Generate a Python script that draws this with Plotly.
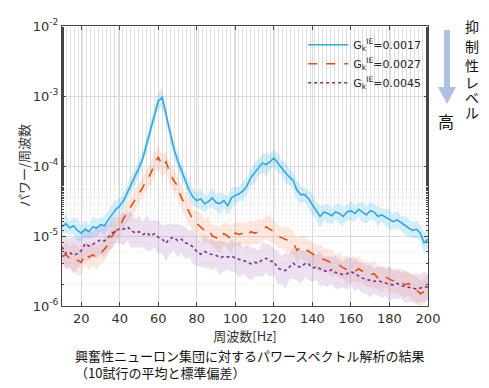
import plotly.graph_objects as go

freq = list(range(10, 201, 2))

blue_mean = [1.35e-5, 1.5e-5, 1.3e-5, 1.4e-5, 1.2e-5, 1.1e-5, 1.25e-5, 1.15e-5, 1.35e-5, 1.3e-5,
             1.45e-5, 1.4e-5, 1.7e-5, 2.0e-5, 2.4e-5, 2.7e-5, 3.2e-5, 4.2e-5, 5.5e-5, 7.0e-5,
             9.5e-5, 1.3e-4, 2.1e-4, 3.3e-4, 5.5e-4, 8.5e-4, 9.5e-4, 5.5e-4, 3.0e-4, 1.8e-4,
             1.2e-4, 8.5e-5, 6.3e-5, 4.5e-5, 3.6e-5, 3.2e-5, 3.4e-5, 2.9e-5, 3.1e-5, 3.5e-5,
             3.0e-5, 2.9e-5, 3.2e-5, 2.7e-5, 3.5e-5, 3.8e-5, 4.0e-5, 4.4e-5, 5.2e-5, 6.8e-5,
             8.0e-5, 9.5e-5, 1.1e-4, 1.05e-4, 1.15e-4, 1.3e-4, 1.1e-4, 9.5e-5, 8.0e-5, 7.0e-5,
             6.2e-5, 4.5e-5, 3.9e-5, 3.9e-5, 3.4e-5, 2.8e-5, 2.3e-5, 1.9e-5, 2.2e-5, 2.1e-5,
             1.95e-5, 2.2e-5, 2.1e-5, 1.9e-5, 2.2e-5, 2.3e-5, 2.1e-5, 2.4e-5, 2.2e-5, 2.0e-5,
             2.3e-5, 2.2e-5, 1.9e-5, 2.0e-5, 1.85e-5, 1.7e-5, 1.6e-5, 1.7e-5, 1.55e-5, 1.4e-5,
             1.3e-5, 1.2e-5, 1.25e-5, 1.1e-5, 8.0e-6, 9.0e-6]

orange_mean = [5.1e-6, 5.4e-6, 4.8e-6, 5.0e-6, 4.5e-6, 4.2e-6, 5.6e-6, 5.0e-6, 5.4e-6, 4.9e-6,
               5.6e-6, 6.5e-6, 7.5e-6, 1.0e-5, 1.2e-5, 1.35e-5, 1.8e-5, 2.2e-5, 2.7e-5, 3.2e-5,
               4.1e-5, 5.0e-5, 6.3e-5, 7.8e-5, 1.05e-4, 1.35e-4, 1.0e-4, 1.15e-4, 8.0e-5, 6.2e-5,
               5.2e-5, 3.5e-5, 2.8e-5, 2.2e-5, 1.7e-5, 1.5e-5, 1.35e-5, 1.2e-5, 1.25e-5, 1.0e-5,
               9.5e-6, 8.8e-6, 1.08e-5, 1.0e-5, 8.8e-6, 1.1e-5, 1.05e-5, 1.1e-5, 1.0e-5, 1.15e-5,
               1.1e-5, 1.15e-5, 1.2e-5, 1.35e-5, 1.25e-5, 1.15e-5, 1.0e-5, 9.5e-6, 9.0e-6, 8.5e-6,
               8.0e-6, 6.2e-6, 7.0e-6, 6.5e-6, 6.0e-6, 5.6e-6, 5.0e-6, 4.8e-6, 4.6e-6, 4.4e-6,
               4.1e-6, 3.9e-6, 3.8e-6, 3.5e-6, 3.3e-6, 3.2e-6, 3.1e-6, 3.4e-6, 3.1e-6, 2.9e-6,
               2.8e-6, 2.9e-6, 2.5e-6, 2.4e-6, 2.6e-6, 2.4e-6, 2.3e-6, 2.2e-6, 2.2e-6, 2.0e-6,
               2.1e-6, 1.8e-6, 1.7e-6, 1.5e-6, 1.6e-6, 1.9e-6]

purple_mean = [7.0e-6, 5.6e-6, 5.8e-6, 5.3e-6, 5.6e-6, 6.2e-6, 7.8e-6, 7.2e-6, 7.6e-6, 8.2e-6,
               8.8e-6, 8.5e-6, 9.5e-6, 1.1e-5, 1.2e-5, 1.28e-5, 1.25e-5, 1.35e-5, 1.2e-5, 1.1e-5,
               1.15e-5, 1.05e-5, 1.12e-5, 1.0e-5, 1.08e-5, 9.6e-6, 9.0e-6, 7.9e-6, 9.2e-6, 9.6e-6,
               8.6e-6, 9.0e-6, 8.0e-6, 7.6e-6, 7.0e-6, 6.0e-6, 5.5e-6, 6.0e-6, 5.6e-6, 5.4e-6,
               5.3e-6, 4.9e-6, 5.1e-6, 5.0e-6, 5.2e-6, 4.8e-6, 4.6e-6, 4.5e-6, 4.3e-6, 4.0e-6,
               4.2e-6, 4.1e-6, 4.6e-6, 4.8e-6, 4.4e-6, 4.3e-6, 3.5e-6, 3.3e-6, 3.2e-6, 3.6e-6,
               4.1e-6, 3.7e-6, 3.6e-6, 4.0e-6, 4.0e-6, 3.5e-6, 3.6e-6, 3.4e-6, 3.2e-6, 3.1e-6,
               3.3e-6, 3.0e-6, 2.9e-6, 2.8e-6, 2.9e-6, 3.1e-6, 2.9e-6, 2.7e-6, 2.5e-6, 2.4e-6,
               2.3e-6, 2.25e-6, 2.3e-6, 2.2e-6, 2.15e-6, 2.05e-6, 2.0e-6, 2.1e-6, 1.95e-6, 1.9e-6,
               1.85e-6, 1.8e-6, 1.75e-6, 1.8e-6, 1.9e-6, 1.85e-6]

# standard deviation spread, in decades
blue_sd = [0.10, 0.14, 0.09, 0.12, 0.16, 0.11, 0.13, 0.10, 0.15, 0.12,
           0.10, 0.14, 0.12, 0.16, 0.13, 0.11, 0.12, 0.10, 0.13, 0.11,
           0.12, 0.10, 0.11, 0.12, 0.10, 0.12, 0.13, 0.11, 0.10, 0.12,
           0.11, 0.13, 0.10, 0.14, 0.12, 0.11, 0.15, 0.12, 0.10, 0.14,
           0.12, 0.16, 0.11, 0.13, 0.15, 0.12, 0.10, 0.14, 0.12, 0.11,
           0.15, 0.12, 0.13, 0.16, 0.11, 0.12, 0.14, 0.10, 0.15, 0.12,
           0.11, 0.14, 0.12, 0.10, 0.13, 0.15, 0.12, 0.16, 0.11, 0.14,
           0.12, 0.10, 0.15, 0.13, 0.11, 0.14, 0.12, 0.10, 0.15, 0.12,
           0.13, 0.11, 0.14, 0.10, 0.12, 0.15, 0.11, 0.13, 0.10, 0.14,
           0.12, 0.11, 0.13, 0.12, 0.15, 0.12]

orange_sd = [0.14, 0.18, 0.16, 0.20, 0.22, 0.17, 0.15, 0.19, 0.16, 0.18,
             0.14, 0.17, 0.15, 0.16, 0.14, 0.15, 0.13, 0.15, 0.14, 0.16,
             0.13, 0.15, 0.14, 0.16, 0.15, 0.18, 0.16, 0.15, 0.14, 0.16,
             0.15, 0.17, 0.16, 0.18, 0.15, 0.17, 0.19, 0.16, 0.18, 0.15,
             0.17, 0.19, 0.16, 0.18, 0.20, 0.16, 0.18, 0.15, 0.19, 0.17,
             0.16, 0.18, 0.15, 0.17, 0.19, 0.16, 0.18, 0.15, 0.17, 0.20,
             0.16, 0.18, 0.15, 0.19, 0.17, 0.16, 0.18, 0.20, 0.16, 0.17,
             0.19, 0.15, 0.18, 0.16, 0.20, 0.17, 0.15, 0.19, 0.16, 0.18,
             0.17, 0.20, 0.16, 0.18, 0.15, 0.19, 0.17, 0.16, 0.20, 0.18,
             0.16, 0.19, 0.17, 0.20, 0.18, 0.17]

purple_sd = [0.18, 0.24, 0.20, 0.27, 0.22, 0.19, 0.25, 0.21, 0.18, 0.23,
             0.20, 0.24, 0.19, 0.22, 0.18, 0.21, 0.24, 0.19, 0.26, 0.20,
             0.23, 0.18, 0.25, 0.21, 0.19, 0.24, 0.20, 0.26, 0.22, 0.18,
             0.24, 0.20, 0.23, 0.19, 0.25, 0.21, 0.18, 0.24, 0.20, 0.22,
             0.19, 0.25, 0.21, 0.18, 0.23, 0.20, 0.26, 0.19, 0.22, 0.24,
             0.20, 0.18, 0.25, 0.21, 0.23, 0.19, 0.24, 0.20, 0.26, 0.18,
             0.22, 0.20, 0.24, 0.19, 0.23, 0.21, 0.18, 0.25, 0.20, 0.22,
             0.19, 0.24, 0.21, 0.18, 0.23, 0.20, 0.25, 0.19, 0.22, 0.20,
             0.24, 0.18, 0.21, 0.23, 0.19, 0.25, 0.20, 0.22, 0.18, 0.24,
             0.21, 0.19, 0.23, 0.20, 0.22, 0.19]

series_names = ["G<sub>k</sub><sup>IE</sup>=0.0017",
                "G<sub>k</sub><sup>IE</sup>=0.0027",
                "G<sub>k</sub><sup>IE</sup>=0.0045"]

y_tickvals = [1e-6, 1e-5, 1e-4, 1e-3, 1e-2]
y_ticktext = ["10<sup>-6</sup>", "10<sup>-5</sup>", "10<sup>-4</sup>", "10<sup>-3</sup>", "10<sup>-2</sup>"]

x_title = "周波数[Hz]"
y_title = "パワー/周波数"
caption = "興奮性ニューロン集団に対するパワースペクトル解析の結果<br>（10試行の平均と標準偏差）"
side_chars = ["抑", "制", "性", "レ", "ベ", "ル"]
side_high = "高"

FONT = "DejaVu Sans, Noto Sans CJK JP, sans-serif"
JFONT = "Noto Sans CJK JP, sans-serif"

styles = [
    dict(color="#35a7dd", dash="solid", width=1.6, fill="rgba(77,190,238,0.25)"),
    dict(color="#d95319", dash="dash", width=1.6, fill="rgba(240,150,110,0.22)"),
    dict(color="#7e2f8e", dash="dot", width=1.6, fill="rgba(170,120,190,0.22)"),
]

fig = go.Figure()
all_means = [blue_mean, orange_mean, purple_mean]
all_sd = [blue_sd, orange_sd, purple_sd]

# bands
for mean, sd, st in zip(all_means, all_sd, styles):
    upper = [m * 10 ** s for m, s in zip(mean, sd)]
    lower = [m / 10 ** s for m, s in zip(mean, sd)]
    fig.add_trace(go.Scatter(
        x=freq + freq[::-1], y=upper + lower[::-1],
        fill="toself", fillcolor=st["fill"], line=dict(width=0),
        hoverinfo="skip", showlegend=False))

for mean, name, st in zip(all_means, series_names, styles):
    fig.add_trace(go.Scatter(
        x=freq, y=mean, mode="lines", name=name,
        line=dict(color=st["color"], dash=st["dash"], width=st["width"])))

# page offset of the figure (body margin)
OFF = 8
PL, PR, PT, PB = 62, 428, 26, 306   # plot area in page pixels
W, H = 489 - OFF, 388 - OFF


def px(x):
    return (x - PL) / (PR - PL)


def py(y):
    return (PB - y) / (PB - PT)


fig.update_layout(
    width=W, height=H,
    margin=dict(l=PL - OFF, r=W + OFF - PR, t=PT - OFF, b=H + OFF - PB, autoexpand=False),
    paper_bgcolor="white", plot_bgcolor="white",
    font=dict(family=FONT, size=12, color="#262626"),
    showlegend=True,
    legend=dict(x=0.995, y=0.985, xanchor="right", yanchor="top",
                bgcolor="rgba(0,0,0,0)", font=dict(size=11, family=FONT, color="#262626"),
                tracegroupgap=0, itemwidth=40),
    xaxis=dict(range=[10, 200], tick0=0, dtick=20, ticks="inside", ticklen=4, automargin=False,
               tickcolor="#444", showline=True, linecolor="#444", linewidth=1, mirror="ticks",
               showgrid=True, gridcolor="#dadada", gridwidth=1, zeroline=False,
               tickfont=dict(size=13, family=FONT, color="#333"),
               title=dict(text=x_title, font=dict(size=13, family=JFONT, color="#333"), standoff=4)),
    yaxis=dict(type="log", range=[-6, -2], tickvals=y_tickvals, ticktext=y_ticktext, automargin=False,
               ticks="inside", ticklen=4, tickcolor="#444",
               showline=True, linecolor="#444", linewidth=1, mirror="ticks",
               showgrid=True, gridcolor="#dadada", gridwidth=1, zeroline=False,
               minor=dict(showgrid=True, gridcolor="#dedede", griddash="1px,3px", ticks="inside", ticklen=2,
                          tickcolor="#444"),
               tickfont=dict(size=13, family=FONT, color="#333")),
)

# y-axis title
fig.add_annotation(xref="paper", yref="paper", x=px(23), y=py(166), xanchor="center", yanchor="middle",
                   text=y_title, showarrow=False, textangle=-90,
                   font=dict(size=13, family=JFONT, color="#333"))
# caption
fig.add_annotation(xref="paper", yref="paper", x=px(73), y=py(344), xanchor="left", yanchor="top",
                   text=caption, showarrow=False, align="left",
                   font=dict(size=13, family=JFONT, color="#111"))
# side label (vertical writing)
for ch, yc in zip(side_chars, [26, 46, 65, 82, 97, 112]):
    fig.add_annotation(xref="paper", yref="paper", x=px(472), y=py(yc), xanchor="center", yanchor="middle",
                       text=ch, showarrow=False, font=dict(size=14, family=JFONT, color="#111"))
fig.add_annotation(xref="paper", yref="paper", x=px(446), y=py(121), xanchor="center", yanchor="middle",
                   text=side_high, showarrow=False, font=dict(size=16, family=JFONT, color="#111"))
# arrow
fig.add_shape(type="rect", xref="paper", yref="paper", x0=px(444), x1=px(450), y0=py(30), y1=py(88),
              fillcolor="#aec2df", line=dict(width=0), layer="above")
fig.add_shape(type="path", xref="paper", yref="paper",
              path=f"M {px(438)} {py(87)} L {px(456)} {py(87)} L {px(447)} {py(104)} Z",
              fillcolor="#aec2df", line=dict(width=0), layer="above")

fig.write_html("out.html")
